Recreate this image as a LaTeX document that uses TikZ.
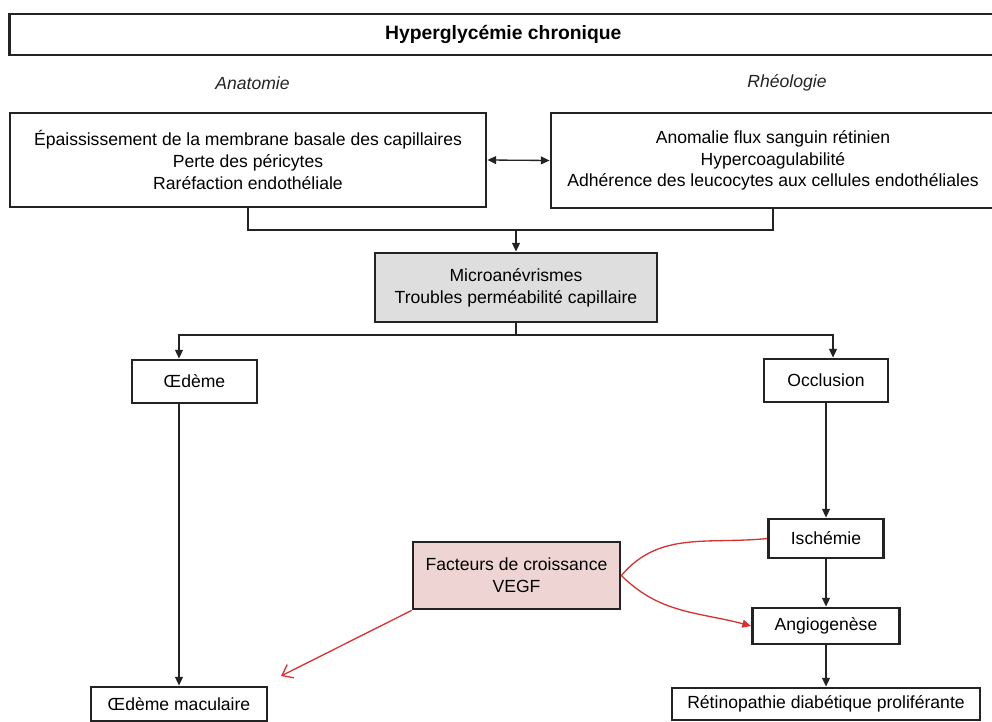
\documentclass[tikz,border=0pt]{standalone}
\usepackage{fontspec}
\setmainfont{Liberation Sans}
\usepackage{xcolor}
\usepackage{tikz}
\usetikzlibrary{arrows.meta, positioning, calc}
\definecolor{boxgray}{RGB}{222,222,222}
\definecolor{vegfpink}{RGB}{238,213,211}
\definecolor{vegfred}{RGB}{214,50,50}
\definecolor{lineblack}{RGB}{35,35,35}

\begin{document}
\begin{tikzpicture}[
    box/.style={rectangle, draw=lineblack, line width=1.6pt, fill=white, inner sep=2pt,
                align=center, font=\fontsize{10}{12.4}\selectfont},
    greybox/.style={box, fill=boxgray},
    pinkbox/.style={box, fill=vegfpink},
    side/.style={font=\fontsize{10}{12}\selectfont\itshape, text=lineblack},
    arrow/.style={-{Triangle[length=5pt,width=4.5pt]}, line width=0.75pt, color=lineblack},
    link/.style={line width=0.75pt, color=lineblack},
    redline/.style={line width=0.75pt, color=vegfred},
    redarrow/.style={redline, -{Triangle[length=5pt,width=4.5pt]}},
    redopen/.style={redline, -{Straight Barb[length=5.5pt,width=8.5pt]}}
]
\useasboundingbox (0,0) rectangle (19.84,-14.44);
\clip (0,0) rectangle (19.84,-14.44);

% top
\node[box, minimum width=19.75cm, minimum height=0.82cm, font=\fontsize{11}{13}\selectfont\bfseries]
    (hyper) at (10.065,-0.69) {Hyperglycémie chronique};
\node[side] (anat) at (5.05,-1.66) {Anatomie};
\node[side] (rheo) at (15.74,-1.66) {Rhéologie};

\node[box, minimum width=9.52cm, minimum height=1.88cm] (anatbox) at (4.96,-3.2)
    {Épaississement de la membrane basale des capillaires\\Perte des péricytes\\Raréfaction endothéliale};
\node[box, minimum width=8.88cm, minimum height=1.9cm] (rheobox) at (15.46,-3.21)
    {Anomalie flux sanguin rétinien\\Hypercoagulabilité\\Adhérence des leucocytes aux cellules endothéliales};

% middle
\node[greybox, minimum width=5.64cm, minimum height=1.38cm] (micro) at (10.32,-5.75)
    {Microanévrismes\\Troubles perméabilité capillaire};
\node[box, minimum width=2.5cm, minimum height=0.86cm] (oedeme) at (3.89,-7.63) {Œdème};
\node[box, minimum width=2.48cm, minimum height=0.86cm] (occl) at (16.52,-7.61) {Occlusion};

% bottom
\node[box, minimum width=2.3cm, minimum height=0.78cm] (isch) at (16.52,-10.77) {Ischémie};
\node[box, minimum width=2.94cm, minimum height=0.72cm] (angio) at (16.52,-12.52) {Angiogenèse};
\node[box, minimum width=6.16cm, minimum height=0.64cm] (retino) at (16.52,-14.08) {Rétinopathie diabétique proliférante};
\node[box, minimum width=3.52cm, minimum height=0.68cm] (macu) at (3.58,-14.08) {Œdème maculaire};
\node[pinkbox, minimum width=4.14cm, minimum height=1.34cm] (vegf) at (10.33,-11.51)
    {Facteurs de croissance\\VEGF};

\coordinate (join) at (10.32,-4.6);
\coordinate (split) at (10.32,-6.7);
\coordinate (vegfend) at (5.62,-13.52);

\draw[{Triangle[length=5pt,width=4.5pt]}-{Triangle[length=5pt,width=4.5pt]}, link] (anatbox.east) -- (rheobox.west);
\draw[link] (anatbox.south) |- (join) -| (rheobox.south);
\draw[arrow] (join) -- (micro.north);
\draw[link] (micro.south) -- (split);
\draw[arrow] (split) -| ([xshift=-0.31cm]oedeme.north);
\draw[arrow] (split) -| ([xshift=0.14cm]occl.north);
\draw[arrow] ([xshift=-0.31cm]oedeme.south) -- (macu.north);
\draw[arrow] (occl.south) -- (isch.north);
\draw[arrow] (isch.south) -- (angio.north);
\draw[arrow] (angio.south) -- (retino.north);

\draw[redline] (isch.west) to[out=186, in=50] (vegf.east);
\draw[redarrow] (vegf.east) to[out=-45, in=165] (angio.west);
\draw[redopen] (vegf.south west) -- (vegfend);

\end{tikzpicture}
\end{document}
